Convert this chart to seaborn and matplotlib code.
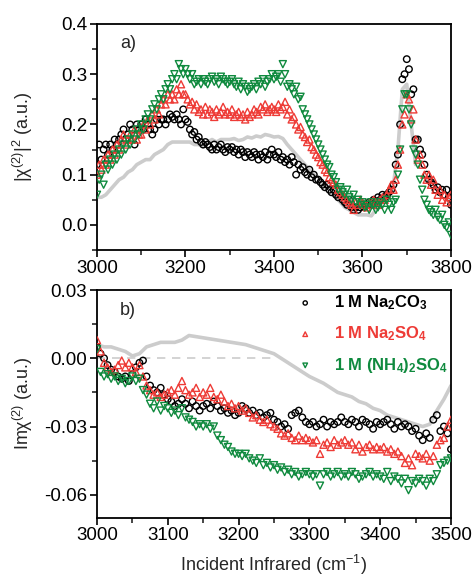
import numpy as np
import pandas as pd
import matplotlib
matplotlib.use("Agg")
import matplotlib.pyplot as plt
from matplotlib.ticker import MultipleLocator, FormatStrFormatter
import seaborn as sns

# ---------------- data ----------------
wn_top = list(range(3000, 3805, 5))
top_na2co3 = [
    0.12, 0.16, 0.13, 0.15, 0.16, 0.14, 0.16, 0.15, 0.17, 0.16,
    0.17, 0.18, 0.19, 0.17, 0.18, 0.20, 0.19, 0.16, 0.20, 0.19,
    0.20, 0.19, 0.21, 0.20, 0.19, 0.18, 0.19, 0.21, 0.20, 0.21,
    0.21, 0.20, 0.21, 0.22, 0.215, 0.21, 0.22, 0.21, 0.20, 0.23,
    0.21, 0.205, 0.19, 0.18, 0.185, 0.17, 0.175, 0.165, 0.16, 0.165,
    0.16, 0.155, 0.15, 0.16, 0.15, 0.155, 0.16, 0.15, 0.145, 0.155,
    0.15, 0.155, 0.145, 0.15, 0.14, 0.15, 0.145, 0.135, 0.145, 0.14,
    0.135, 0.145, 0.14, 0.13, 0.14, 0.135, 0.145, 0.13, 0.14, 0.15,
    0.14, 0.135, 0.145, 0.13, 0.135, 0.125, 0.13, 0.12, 0.135, 0.125,
    0.10, 0.12, 0.11, 0.115, 0.105, 0.10, 0.11, 0.095, 0.10, 0.09,
    0.09, 0.085, 0.08, 0.075, 0.08, 0.07, 0.065, 0.07, 0.06, 0.055,
    0.06, 0.05, 0.045, 0.04, 0.05, 0.035, 0.03, 0.035, 0.03, 0.035,
    0.04, 0.035, 0.04, 0.045, 0.04, 0.05, 0.045, 0.055, 0.05, 0.06,
    0.055, 0.06, 0.065, 0.07, 0.08, 0.12, 0.14, 0.20, 0.29, 0.30,
    0.33, 0.31, 0.26, 0.27, 0.17, 0.17, 0.15, 0.14, 0.12, 0.10,
    0.09, 0.085, 0.08, 0.07, 0.075, 0.065, 0.07, 0.06, 0.07, 0.055,
    0.04]
top_na2so4 = [
    0.10, 0.12, 0.11, 0.13, 0.12, 0.14, 0.13, 0.15, 0.14, 0.16,
    0.15, 0.17, 0.18, 0.16, 0.17, 0.18, 0.17, 0.19, 0.17, 0.18,
    0.18, 0.20, 0.19, 0.21, 0.20, 0.22, 0.21, 0.23, 0.22, 0.24,
    0.25, 0.24, 0.26, 0.25, 0.26, 0.25, 0.27, 0.26, 0.28, 0.26,
    0.26, 0.25, 0.24, 0.245, 0.23, 0.24, 0.225, 0.23, 0.22, 0.235,
    0.22, 0.23, 0.225, 0.215, 0.23, 0.22, 0.225, 0.235, 0.22, 0.225,
    0.22, 0.23, 0.215, 0.22, 0.225, 0.215, 0.22, 0.21, 0.225, 0.215,
    0.22, 0.23, 0.225, 0.22, 0.235, 0.23, 0.24, 0.225, 0.23, 0.235,
    0.23, 0.225, 0.24, 0.23, 0.235, 0.245, 0.22, 0.23, 0.21, 0.215,
    0.20, 0.19, 0.195, 0.18, 0.175, 0.165, 0.17, 0.155, 0.15, 0.14,
    0.135, 0.125, 0.12, 0.11, 0.105, 0.095, 0.09, 0.085, 0.08, 0.07,
    0.065, 0.06, 0.055, 0.05, 0.045, 0.04, 0.03, 0.045, 0.04, 0.05,
    0.045, 0.04, 0.035, 0.045, 0.04, 0.05, 0.045, 0.04, 0.05, 0.055,
    0.05, 0.06, 0.07, 0.08, 0.07, 0.09, 0.12, 0.15, 0.20, 0.22,
    0.26, 0.25, 0.21, 0.23, 0.17, 0.13, 0.14, 0.12, 0.10, 0.09,
    0.10, 0.08, 0.09, 0.07, 0.06, 0.07, 0.05, 0.06, 0.045, 0.055,
    0.06]
top_nh4so4 = [
    0.06, 0.09, 0.10, 0.08, 0.12, 0.11, 0.13, 0.12, 0.14, 0.13,
    0.15, 0.14, 0.16, 0.15, 0.17, 0.16, 0.18, 0.17, 0.19, 0.18,
    0.20, 0.19, 0.21, 0.22, 0.21, 0.23, 0.24, 0.23, 0.25, 0.26,
    0.25, 0.27, 0.28, 0.27, 0.29, 0.30, 0.29, 0.32, 0.31, 0.30,
    0.31, 0.30, 0.29, 0.30, 0.28, 0.285, 0.29, 0.28, 0.29, 0.285,
    0.28, 0.29, 0.295, 0.285, 0.29, 0.28, 0.295, 0.29, 0.285, 0.28,
    0.285, 0.29, 0.28, 0.275, 0.285, 0.27, 0.28, 0.275, 0.265, 0.27,
    0.275, 0.28, 0.27, 0.285, 0.28, 0.29, 0.275, 0.285, 0.29, 0.30,
    0.29, 0.295, 0.30, 0.285, 0.32, 0.30, 0.275, 0.28, 0.27, 0.26,
    0.275, 0.25, 0.255, 0.23, 0.22, 0.21, 0.20, 0.19, 0.18, 0.17,
    0.16, 0.15, 0.14, 0.13, 0.12, 0.115, 0.10, 0.095, 0.085, 0.07,
    0.075, 0.065, 0.06, 0.07, 0.055, 0.05, 0.06, 0.045, 0.05, 0.04,
    0.045, 0.035, 0.04, 0.03, 0.045, 0.04, 0.03, 0.035, 0.045, 0.04,
    0.03, 0.05, 0.04, 0.03, 0.045, 0.05, 0.10, 0.15, 0.23, 0.26,
    0.26, 0.23, 0.20, 0.15, 0.14, 0.12, 0.09, 0.07, 0.05, 0.04,
    0.03, 0.025, 0.02, 0.03, 0.015, 0.01, 0.02, 0.0, -0.005, 0.005,
    -0.02]
wn_top_water = list(range(3000, 3730, 10))
top_water = [
    0.055, 0.055, 0.06, 0.07, 0.08, 0.09, 0.095, 0.105, 0.11, 0.12,
    0.125, 0.13, 0.13, 0.14, 0.145, 0.15, 0.16, 0.165, 0.165, 0.165,
    0.165, 0.165, 0.16, 0.16, 0.155, 0.165, 0.17, 0.165, 0.17, 0.17,
    0.17, 0.172, 0.168, 0.17, 0.175, 0.173, 0.177, 0.175, 0.18, 0.178,
    0.175, 0.176, 0.172, 0.16, 0.15, 0.14, 0.13, 0.12, 0.11, 0.10,
    0.095, 0.085, 0.075, 0.065, 0.055, 0.045, 0.035, 0.03, 0.025, 0.02,
    0.02, 0.02, 0.018, 0.03, 0.04, 0.05, 0.06, 0.08, 0.15, 0.27,
    0.28, 0.20, 0.12]

wn_bot = list(range(3000, 3505, 5))
bot_na2co3 = [
    0.005, 0.002, 0.0, -0.003, -0.005, -0.006, -0.008, -0.009, -0.008, -0.010,
    -0.007, -0.004, -0.002, -0.001, -0.008, -0.012, -0.014, -0.015, -0.013, -0.016,
    -0.018, -0.019, -0.021, -0.020, -0.018, -0.020, -0.022, -0.019, -0.021, -0.023,
    -0.021, -0.020, -0.022, -0.019, -0.021, -0.023, -0.022, -0.024, -0.023, -0.025,
    -0.024, -0.021, -0.022, -0.024, -0.023, -0.025, -0.024, -0.026, -0.025, -0.024,
    -0.027, -0.028, -0.030, -0.029, -0.031, -0.025, -0.024, -0.023, -0.026, -0.028,
    -0.029, -0.028, -0.030, -0.029, -0.027, -0.030, -0.028, -0.029, -0.028, -0.026,
    -0.028, -0.029, -0.027, -0.028, -0.030, -0.027, -0.028, -0.029, -0.031, -0.028,
    -0.029, -0.028, -0.027, -0.029, -0.031, -0.028, -0.030, -0.029, -0.030, -0.032,
    -0.031, -0.034, -0.036, -0.033, -0.035, -0.027, -0.025, -0.032, -0.030, -0.033,
    -0.040]
bot_na2so4 = [
    0.008, 0.003, -0.002, -0.004, -0.006, -0.005, -0.003, -0.001, -0.004, -0.002,
    -0.004, -0.006, -0.003, -0.008, -0.012, -0.014, -0.016, -0.015, -0.017, -0.016,
    -0.015, -0.014, -0.016, -0.013, -0.010, -0.014, -0.016, -0.015, -0.013, -0.017,
    -0.015, -0.016, -0.013, -0.017, -0.018, -0.016, -0.019, -0.021, -0.020, -0.022,
    -0.021, -0.023, -0.022, -0.024, -0.026, -0.025, -0.027, -0.028, -0.027, -0.029,
    -0.030, -0.031, -0.033, -0.034, -0.033, -0.035, -0.036, -0.034, -0.036, -0.035,
    -0.036, -0.037, -0.036, -0.042, -0.038, -0.037, -0.039, -0.036, -0.038, -0.037,
    -0.036, -0.038, -0.037, -0.040, -0.038, -0.041, -0.039, -0.038, -0.040, -0.039,
    -0.040, -0.039, -0.041, -0.040, -0.042, -0.041, -0.043, -0.046, -0.044, -0.047,
    -0.042, -0.043, -0.044, -0.042, -0.045, -0.043, -0.038, -0.036, -0.035, -0.030,
    -0.027]
bot_nh4so4 = [
    0.004, -0.006, -0.008, -0.007, -0.009, -0.008, -0.010, -0.009, -0.011, -0.010,
    -0.008, -0.010, -0.009, -0.014, -0.016, -0.020, -0.022, -0.019, -0.023, -0.021,
    -0.022, -0.024, -0.023, -0.025, -0.022, -0.026, -0.027, -0.028, -0.030, -0.029,
    -0.030, -0.029, -0.031, -0.030, -0.034, -0.036, -0.038, -0.039, -0.041, -0.042,
    -0.042, -0.043, -0.042, -0.044, -0.045, -0.046, -0.044, -0.047, -0.046, -0.048,
    -0.047, -0.049, -0.048, -0.050, -0.049, -0.051, -0.050, -0.052, -0.051, -0.050,
    -0.051, -0.052, -0.051, -0.056, -0.051, -0.050, -0.052, -0.051, -0.050, -0.052,
    -0.051, -0.052, -0.050, -0.051, -0.053, -0.052, -0.051, -0.050, -0.052, -0.051,
    -0.052, -0.053, -0.050, -0.054, -0.052, -0.053, -0.055, -0.053, -0.058, -0.054,
    -0.055, -0.053, -0.054, -0.056, -0.053, -0.054, -0.051, -0.047, -0.046, -0.045,
    -0.044]
wn_bot_water = list(range(3000, 3510, 10))
bot_water = [
    0.006, 0.005, 0.005, 0.004, 0.003, 0.001, 0.002, 0.005, 0.006, 0.007,
    0.007, 0.007, 0.008, 0.010, 0.0095, 0.009, 0.0085, 0.008, 0.0075, 0.007,
    0.0065, 0.006, 0.005, 0.004, 0.003, 0.002, 0.0, -0.002, -0.004, -0.006,
    -0.008, -0.0095, -0.011, -0.013, -0.015, -0.016, -0.017, -0.019, -0.020, -0.022,
    -0.023, -0.025, -0.026, -0.027, -0.028, -0.029, -0.030, -0.029, -0.023, -0.018,
    -0.012]

labels = ["1 M Na$_\\mathbf{2}$CO$_\\mathbf{3}$",
          "1 M Na$_\\mathbf{2}$SO$_\\mathbf{4}$",
          "1 M (NH$_\\mathbf{4}$)$_\\mathbf{2}$SO$_\\mathbf{4}$"]

# ---------------- style ----------------
sns.set_style("ticks")
plt.rcParams["font.family"] = ["Liberation Sans", "DejaVu Sans"]
plt.rcParams["mathtext.fontset"] = "custom"
plt.rcParams["mathtext.rm"] = "Liberation Sans"
plt.rcParams["mathtext.it"] = "Liberation Sans:italic"
plt.rcParams["mathtext.bf"] = "Liberation Sans:bold"
plt.rcParams["mathtext.default"] = "regular"
plt.rcParams["axes.unicode_minus"] = False

BLACK = "#000000"
RED = "#ee3b36"
GREEN = "#0f8a3e"
GRAY = "#cccccc"
colors = [BLACK, RED, GREEN]
markers = ["o", "^", "v"]
sizes = [22, 26, 26]

fig = plt.figure(figsize=(4.73, 5.82), dpi=100)
ax1 = fig.add_axes([0.205, 0.5704, 0.7485, 0.3884])
ax2 = fig.add_axes([0.205, 0.1108, 0.7485, 0.3909])

# top panel
sns.lineplot(x=wn_top_water, y=top_water, ax=ax1, color=GRAY, lw=2.6, zorder=1)
for ys, c, m, s in zip([top_na2co3, top_na2so4, top_nh4so4], colors, markers, sizes):
    sns.scatterplot(x=wn_top, y=ys, ax=ax1, marker=m, s=s, fc="none", ec=c,
                    linewidth=1.0, zorder=3)

# bottom panel
ax2.plot([3000, 3250], [0, 0], ls=(0, (5, 4)), color=GRAY, lw=1.2, zorder=1)
sns.lineplot(x=wn_bot_water, y=bot_water, ax=ax2, color=GRAY, lw=2.6, zorder=1)
for ys, c, m, s, lab in zip([bot_na2co3, bot_na2so4, bot_nh4so4], colors, markers, sizes, labels):
    sns.scatterplot(x=wn_bot, y=ys, ax=ax2, marker=m, s=s, fc="none", ec=c,
                    linewidth=1.0, zorder=3, label=lab)

leg = ax2.legend(loc="upper right", frameon=False, prop={"weight": "bold", "size": 12},
                 handletextpad=1.0, labelspacing=0.75, borderaxespad=0.05,
                 handlelength=1.4, borderpad=0.15, markerscale=0.65)
for t, c in zip(leg.get_texts(), colors):
    t.set_color(c)

# axes formatting
ax1.set_xlim(3000, 3800)
ax1.set_ylim(-0.05, 0.4)
ax1.xaxis.set_major_locator(MultipleLocator(200))
ax1.xaxis.set_minor_locator(MultipleLocator(100))
ax1.yaxis.set_major_locator(MultipleLocator(0.1))
ax1.yaxis.set_minor_locator(MultipleLocator(0.05))
ax1.yaxis.set_major_formatter(FormatStrFormatter("%.1f"))
ax1.set_ylabel("|χ$^{(2)}$|$^{2}$ (a.u.)", fontsize=13)
ax1.yaxis.set_label_coords(-0.175, 0.5)

ax2.set_xlim(3000, 3500)
ax2.set_ylim(-0.07, 0.03)
ax2.xaxis.set_major_locator(MultipleLocator(100))
ax2.xaxis.set_minor_locator(MultipleLocator(50))
ax2.yaxis.set_major_locator(MultipleLocator(0.03))
ax2.yaxis.set_minor_locator(MultipleLocator(0.015))
ax2.yaxis.set_major_formatter(FormatStrFormatter("%.2f"))
ax2.set_ylabel("Imχ$^{(2)}$ (a.u.)", fontsize=13)
ax2.yaxis.set_label_coords(-0.175, 0.5)
ax2.set_xlabel("Incident Infrared (cm$^{-1}$)", fontsize=13, labelpad=6)

for ax in (ax1, ax2):
    for sp in ax.spines.values():
        sp.set_visible(True)
        sp.set_linewidth(1.3)
        sp.set_color("black")
    ax.tick_params(which="major", direction="out", length=5, width=1.2,
                   labelsize=13.5, colors="black", pad=2)
    ax.tick_params(which="minor", direction="out", length=3.5, width=1.2)

ax1.text(0.065, 0.915, "a)", transform=ax1.transAxes, fontsize=13, va="center")
ax2.text(0.065, 0.91, "b)", transform=ax2.transAxes, fontsize=13, va="center")

fig.savefig("out.png", dpi=100)
